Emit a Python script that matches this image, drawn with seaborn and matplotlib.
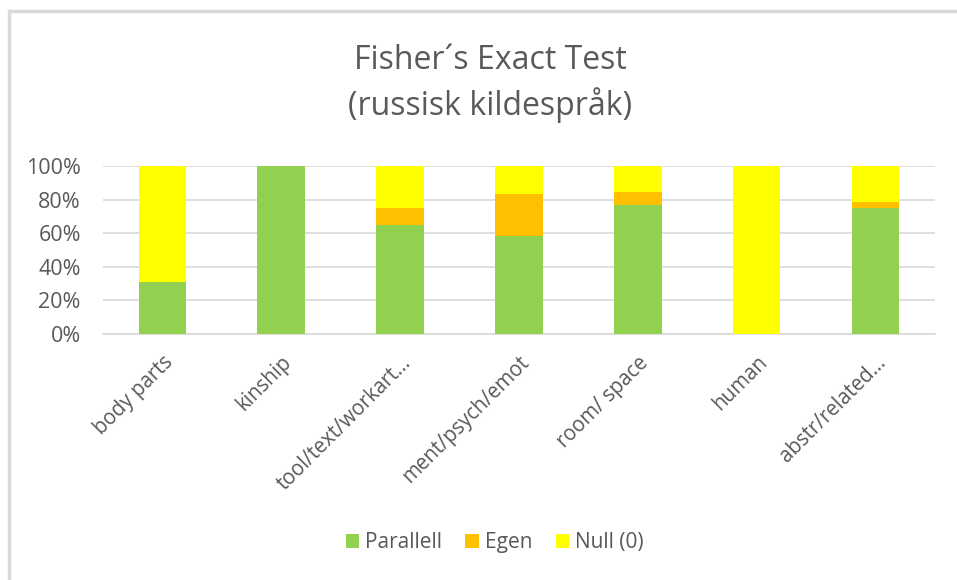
import matplotlib
matplotlib.use("Agg")
import matplotlib.pyplot as plt
import seaborn as sns
import pandas as pd
import numpy as np
from matplotlib.lines import Line2D
from matplotlib.patches import Patch

categories = ["body parts", "kinship", "tool/text/workart...", "ment/psych/emot",
              "room/ space", "human", "abstr/related..."]
parallell = [30.8, 100.0, 65.0, 58.3, 76.9, 0.0, 75.0]
egen = [0.0, 0.0, 10.0, 25.0, 7.7, 0.0, 3.6]
null = [69.2, 0.0, 25.0, 16.7, 15.4, 100.0, 21.4]
series_names = ["Parallell", "Egen", "Null (0)"]
colors = ["#92D050", "#FFC000", "#FFFF00"]
title = "Fisher\u00b4s Exact Test\n(russisk kildespr\u00e5k)"

sns.set_theme(style="white")
plt.rcParams["font.family"] = ["Open Sans", "DejaVu Sans"]

df = pd.DataFrame({"cat": categories, "p": parallell, "e": egen, "n": null})
df["pe"] = df["p"] + df["e"]
df["pen"] = df["pe"] + df["n"]

fig = plt.figure(figsize=(9.57, 5.8), dpi=100)
ax = fig.add_axes([0.1076, 0.424, 0.977 - 0.1076, 0.714 - 0.424])

gray = "#595959"
grid = "#D9D9D9"
for col, c in zip(["pen", "pe", "p"], [colors[2], colors[1], colors[0]]):
    sns.barplot(data=df, x="cat", y=col, color=c, width=0.4, saturation=1,
                ax=ax, zorder=3, linewidth=0)

ax.set_ylim(0, 100)
ax.set_xlim(-0.5, len(categories) - 0.5)
ax.set_yticks([0, 20, 40, 60, 80, 100])
ax.set_yticklabels([f"{v}%" for v in [0, 20, 40, 60, 80, 100]], fontsize=15.5, color=gray)
ax.set_xticks(range(len(categories)))
ax.set_xticklabels(categories, rotation=45, ha="right", rotation_mode="anchor",
                   fontsize=14.8, color=gray)
ax.tick_params(axis="y", length=0, pad=16)
ax.tick_params(axis="x", length=0, pad=13)
ax.set_xlabel("")
ax.set_ylabel("")
ax.yaxis.grid(True, color=grid, linewidth=1.2, zorder=0)
ax.set_axisbelow(True)
for s in ["top", "right", "left"]:
    ax.spines[s].set_visible(False)
ax.spines["bottom"].set_color(grid)
ax.spines["bottom"].set_linewidth(1.2)

fig.text(0.512, 0.856, title, ha="center", va="center", fontsize=23,
         color=gray, linespacing=1.38)

handles = [Patch(facecolor=c, edgecolor="none", label=l) for c, l in zip(colors, series_names)]
fig.legend(handles=handles, loc="center", bbox_to_anchor=(0.517, 0.064), ncol=3,
           frameon=False, fontsize=15, handlelength=0.65, handleheight=0.65,
           handletextpad=0.3, columnspacing=1.1, labelcolor=gray)

# chart-area border (left and top edges visible)
fig.add_artist(Line2D([0.009, 0.009], [0.0, 0.981], color="#D9D9D9", linewidth=2.5,
                      transform=fig.transFigure))
fig.add_artist(Line2D([0.009, 1.0], [0.981, 0.981], color="#D9D9D9", linewidth=2.5,
                      transform=fig.transFigure))

fig.savefig("out.png", dpi=100)
